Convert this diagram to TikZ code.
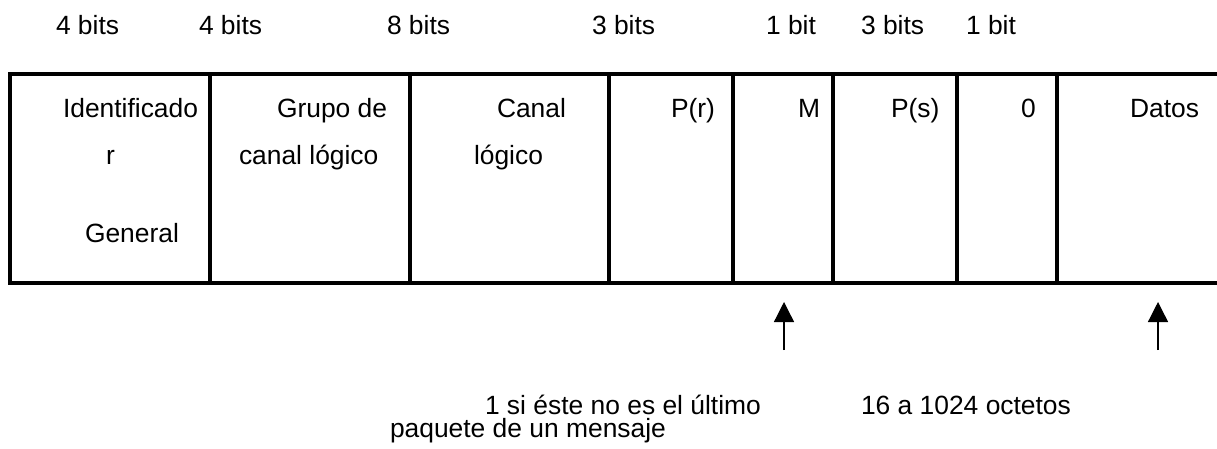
\documentclass[tikz,border=0pt]{standalone}
\usepackage{fontspec}
\setmainfont{Liberation Sans}
\usetikzlibrary{arrows.meta}
\begin{document}
\begin{tikzpicture}[x=1pt,y=-1pt,
  lbl/.style={anchor=base west,inner sep=0pt,outer sep=0pt,font=\fontsize{26.4pt}{26.4pt}\selectfont},
  frame/.style={line width=4pt,line join=miter,line cap=rect},
  pointer/.style={line width=1.3pt,-{Triangle[length=20pt,width=20pt]}}]
\useasboundingbox (0,0) rectangle (1217,449);
\fill[white] (0,0) rectangle (1217,449);
% widths in bits
\node[lbl] (w1) at (56,35) {4 bits};
\node[lbl] (w2) at (199,35) {4 bits};
\node[lbl] (w3) at (387,35) {8 bits};
\node[lbl] (w4) at (592,35) {3 bits};
\node[lbl] (w5) at (766,35) {1 bit};
\node[lbl] (w6) at (861,35) {3 bits};
\node[lbl] (w7) at (966,35) {1 bit};
% table frame
\draw[frame] (1217,74.5) -- (10,74.5) -- (10,283) -- (1217,283);
\foreach \xx in {210,410,609,733,833,957,1057}
  \draw[frame,line cap=butt] (\xx,74.5) -- (\xx,283);
% cell texts
\node[lbl] (c1a) at (63,118) {Identificado};
\node[lbl] (c1b) at (106,165) {r};
\node[lbl] (c1c) at (85,242) {General};
\node[lbl] (c2a) at (277,118) {Grupo de};
\node[lbl] (c2b) at (239,165) {canal lógico};
\node[lbl] (c3a) at (497,118) {Canal};
\node[lbl] (c3b) at (474,165) {lógico};
\node[lbl] (c4) at (671,118) {P(r)};
\node[lbl] (c5) at (798,118) {M};
\node[lbl] (c6) at (891,118) {P(s)};
\node[lbl] (c7) at (1021,118) {0};
\node[lbl] (c8) at (1130,118) {Datos};
% arrows
\coordinate (a1s) at (784,350);
\coordinate (a1t) at (784,302);
\coordinate (a2s) at (1158,350);
\coordinate (a2t) at (1158,302);
\draw[pointer] (a1s) -- (a1t);
\draw[pointer] (a2s) -- (a2t);
% notes
\node[lbl] (n1) at (485,414) {1 si éste no es el último};
\node[lbl] (n2) at (390,437) {paquete de un mensaje};
\node[lbl] (n3) at (861,414) {16 a 1024 octetos};
\end{tikzpicture}
\end{document}
